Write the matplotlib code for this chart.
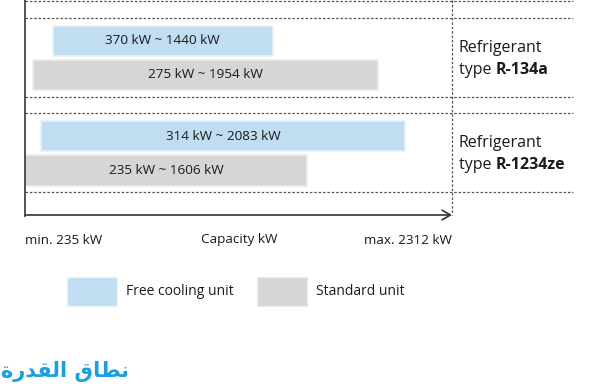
import matplotlib
matplotlib.use("Agg")
import matplotlib.pyplot as plt
from matplotlib.patches import Rectangle

plt.rcParams['font.family'] = ['Open Sans', 'DejaVu Sans']

# capacity range of the x axis (kW)
cap_min = 235
cap_max = 2312

# bars, top to bottom
units = ["free", "standard", "free", "standard"]
lows = [370, 275, 314, 235]
highs = [1440, 1954, 2083, 1606]
refrigerants = ["R-134a", "R-1234ze"]

legend_labels = ["Free cooling unit", "Standard unit"]
# "نطاق القدرة" written with presentation forms in visual order,
# matplotlib does no arabic shaping by itself
title_ar = "\uFE93\uFEAD\uFEAA\uFED8\uFEDF\uFE8D \uFED5\uFE8E\uFEC4\uFEE7"

blue = "#c0ddf2"
grey = "#d6d6d6"
colors = {"free": blue, "standard": grey}
edges = {"free": "#e6f2fb", "standard": "#ececec"}
txt = "#1a1a1a"

W, H = 602, 387
fig = plt.figure(figsize=(W / 100, H / 100), dpi=100)

# overlay in pixel coords for the decorations
bg = fig.add_axes([0, 0, 1, 1])
bg.set_xlim(0, W)
bg.set_ylim(H, 0)
bg.axis('off')

# main chart: x in kW, y in pixel rows
ax = fig.add_axes([25 / W, (H - 216) / H, (452 - 25) / W, 216 / H])
ax.set_xlim(cap_min, cap_max)
ax.set_ylim(216, 0)
for s in ['top', 'right', 'bottom']:
    ax.spines[s].set_visible(False)
ax.spines['left'].set_color('#444444')
ax.spines['left'].set_linewidth(1.3)
ax.set_xticks([])
ax.set_yticks([])
ax.patch.set_alpha(0)

bar_y = [41, 75, 136, 170.5]
bar_h = [30, 30, 30, 31]
for u, lo, hi, y, h in zip(units, lows, highs, bar_y, bar_h):
    ax.barh(y, hi - lo, left=lo, height=h, color=colors[u],
            edgecolor=edges[u], linewidth=1.2)
    ax.text((lo + hi) / 2, y, f"{lo} kW ~ {hi} kW", ha='center', va='center',
            fontsize=9.7, color=txt)

ax.annotate('', xy=(cap_max, 215), xytext=(cap_min, 215),
            arrowprops=dict(arrowstyle='->,head_length=0.6,head_width=0.35',
                            lw=1.2, color='#333333', shrinkA=0, shrinkB=0),
            annotation_clip=False)

# dashed grid rows and the dotted right border
for yy in [1, 18, 97, 113, 192]:
    bg.plot([25, 573], [yy, yy], color='#555555', lw=0.9, ls=(0, (2, 1.5)))
bg.plot([452, 452], [0, 215], color='#555555', lw=0.9, ls=(0, (2, 1.5)))

# refrigerant labels
for ref, ytop in zip(refrigerants, [48, 143]):
    bg.text(459, ytop, "Refrigerant", fontsize=11.5, va='center', color=txt)
    t = bg.text(459, ytop + 22, "type ", fontsize=11.5, va='center', color=txt)
    bg.annotate(ref, xycoords=t, xy=(1, 0.5), va='center', fontsize=11.5,
                fontweight='bold', color=txt)

bg.text(25, 240, f"min. {cap_min} kW", fontsize=9.7, va='center', ha='left', color=txt)
bg.text(239, 240, "Capacity kW", fontsize=9.7, va='center', ha='center', color=txt)
bg.text(452, 240, f"max. {cap_max} kW", fontsize=9.7, va='center', ha='right', color=txt)

# legend
for x0, c, e, lab in zip([67, 257], [blue, grey], [edges["free"], edges["standard"]], legend_labels):
    bg.add_patch(Rectangle((x0, 277), 50, 29, facecolor=c, edgecolor=e, lw=1))
    bg.text(x0 + 59, 291.5, lab, fontsize=10, va='center', color=txt)

bg.text(1, 372, title_ar, fontsize=15, fontweight='bold', color='#1aa0dc',
        va='center', ha='left', family=['DejaVu Sans'])

fig.savefig("out.png", dpi=100)
